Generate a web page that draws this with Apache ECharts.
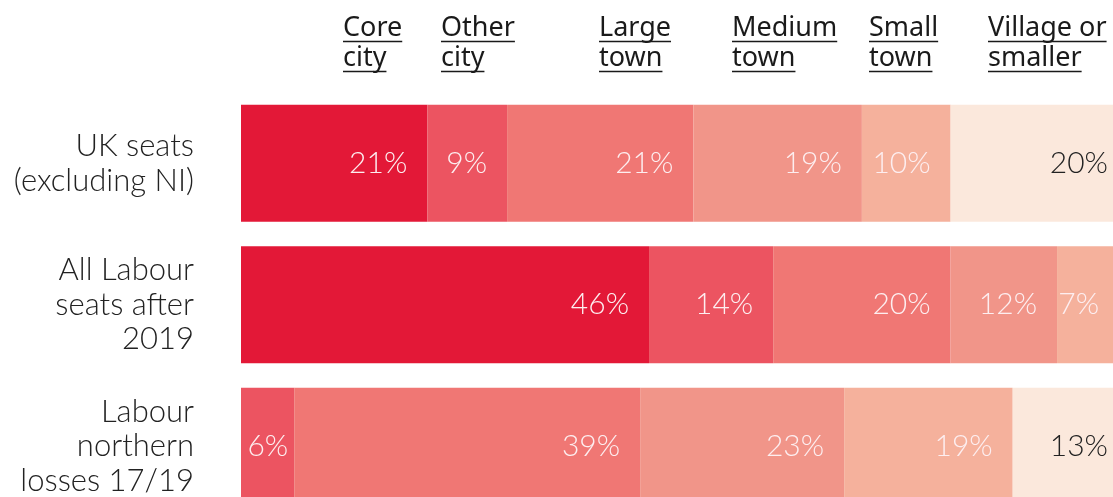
<!DOCTYPE html>
<html>
<head>
    <meta charset="utf-8">
    <script src="https://cdn.jsdelivr.net/npm/echarts@6/dist/echarts.min.js"></script>
    <style>
        html, body { margin: 0; padding: 0; background: #fff; overflow: hidden; }
    </style>
</head>
<body>
<!-- chart runs a little past the window on the right and bottom, like the original -->
<div id="main" style="width: 1128px;height:517px;"></div>
<script type="text/javascript">
    // rows (top to bottom)
    var categories = ['UK seats\n(excluding NI)', 'All Labour\nseats after\n2019', 'Labour\nnorthern\nlosses 17/19'];

    // share of seats by settlement type, %
    var coreCity   = [21, 46, 0];
    var otherCity  = [9, 14, 6];
    var largeTown  = [21, 20, 39];
    var mediumTown = [19, 12, 23];
    var smallTown  = [10, 7, 19];
    var village    = [20, 1, 13];

    var seriesNames = ['Core\ncity', 'Other\ncity', 'Large\ntown', 'Medium\ntown', 'Small\ntown', 'Village or\nsmaller'];
    var seriesData = [coreCity, otherCity, largeTown, mediumTown, smallTown, village];
    var colors = ['#e31837', '#ec5461', '#f07774', '#f19589', '#f5b19c', '#fbe8dc'];
    var labelColors = ['#fdeef0', '#fdeef0', '#fdeef0', '#fdeef0', '#fdeef0', '#222'];

    // header placement
    var headerX = [343, 441, 599, 732, 869, 988];
    var headerFont = '27px "Noto Sans"';

    var myChart = echarts.init(document.getElementById('main'));

    var series = seriesData.map(function (d, i) {
        return {
            name: seriesNames[i],
            type: 'bar',
            stack: 'all',
            barWidth: 117,
            // segments too narrow for the usual padding get the label tucked closer to the edge
            data: d.map(function (v) {
                return v < 7 && v >= 3 ? { value: v, label: { distance: 6 } } : v;
            }),
            itemStyle: { color: colors[i] },
            label: {
                show: true,
                position: 'insideRight',
                distance: 20,
                fontFamily: 'Lato',
                fontWeight: 300,
                fontSize: 30,
                color: labelColors[i],
                formatter: function (p) { return p.value >= 3 ? p.value + '%' : ''; }
            }
        };
    });

    // column headers, underlined
    var ctx = document.createElement('canvas').getContext('2d');
    ctx.font = headerFont;
    var graphics = [];
    seriesNames.forEach(function (name, i) {
        name.split('\n').forEach(function (line, j) {
            var w = ctx.measureText(line).width;
            graphics.push({
                type: 'text',
                x: headerX[i],
                y: 28 + j * 30,
                style: {
                    text: line,
                    font: headerFont,
                    fill: '#1a1a1a',
                    verticalAlign: 'middle'
                }
            });
            graphics.push({
                type: 'line',
                shape: { x1: headerX[i], y1: 41.5 + j * 30, x2: headerX[i] + w, y2: 41.5 + j * 30 },
                style: { stroke: '#1a1a1a', lineWidth: 1.5 }
            });
        });
    });

    var option = {
        animation: false,
        grid: { left: 241, right: 0, top: 92.5, bottom: 0 },
        xAxis: {
            type: 'value',
            min: 0,
            max: 100,
            show: false
        },
        yAxis: {
            type: 'category',
            inverse: true,
            data: categories,
            axisLine: { show: false },
            axisTick: { show: false },
            axisLabel: {
                margin: 47,
                fontFamily: 'Lato',
                fontWeight: 300,
                fontSize: 31,
                lineHeight: 34.5,
                color: '#222',
                align: 'right'
            }
        },
        graphic: graphics,
        series: series
    };

    myChart.setOption(option);
</script>
</body>
</html>
